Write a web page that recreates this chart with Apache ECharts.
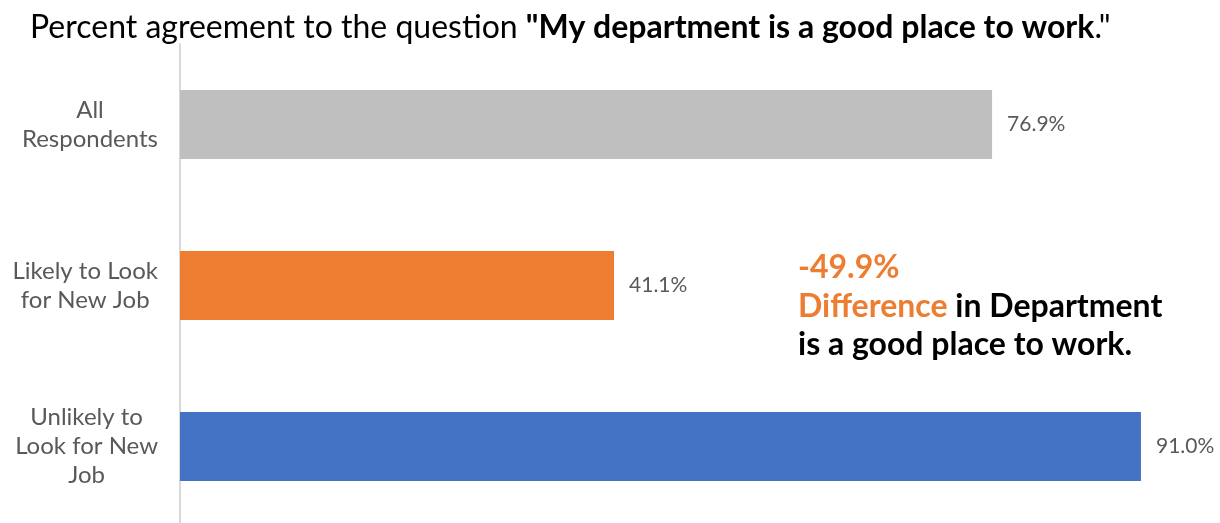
<!DOCTYPE html>
<html>
<head>
<meta charset="utf-8">
<script src="https://cdn.jsdelivr.net/npm/echarts@6/dist/echarts.min.js"></script>
<style>
  html, body { margin: 0; padding: 0; background: #fff; }
  #chart { width: 1220px; height: 523px; }
</style>
</head>
<body>
<div id="chart"></div>
<script>
// Survey groups and their agreement share (%)
const categories = ['All\nRespondents', 'Likely to Look\nfor New Job', 'Unlikely to\nLook for New\nJob'];
const values = [76.9, 41.1, 91.0];
const barColors = ['#BFBFBF', '#ED7D31', '#4472C4'];
const difference = '-49.9%';

const FONT = 'Lato, "Open Sans", sans-serif';
const chart = echarts.init(document.getElementById('chart'), null, { renderer: 'canvas' });

chart.setOption({
  animation: false,
  title: {
    left: 25,
    top: 7,
    text: 'Percent agreement to the question {b|"My department is a good place to work}{r|."}',
    textStyle: {
      fontFamily: FONT,
      fontSize: 32,
      fontWeight: 'normal',
      color: '#000',
      rich: {
        b: { fontFamily: FONT, fontSize: 32, fontWeight: 'bold', color: '#000' },
        r: { fontFamily: FONT, fontSize: 32, fontWeight: 'normal', color: '#000' }
      }
    }
  },
  grid: { left: 180, top: 44, width: 1056, bottom: -4, containLabel: false, outerBoundsMode: 'none' },
  xAxis: {
    type: 'value',
    min: 0,
    max: 100,
    show: false
  },
  yAxis: {
    type: 'category',
    data: categories,
    inverse: true,
    axisLine: { show: true, lineStyle: { color: '#D9D9D9', width: 2 } },
    axisTick: { show: false },
    axisLabel: {
      align: 'right',
      margin: 22,
      // each line centred inside a right-anchored block
      formatter: v => v.split('\n').map(line => '{c|' + line + '}').join('\n'),
      rich: {
        c: {
          fontFamily: FONT,
          fontSize: 24,
          color: '#595959',
          align: 'center',
          lineHeight: 29
        }
      }
    }
  },
  series: [{
    type: 'bar',
    barWidth: 69,
    data: values.map((v, i) => ({ value: v, itemStyle: { color: barColors[i] } })),
    label: {
      show: true,
      position: 'right',
      distance: 15,
      fontFamily: FONT,
      fontSize: 21,
      color: '#595959',
      formatter: p => p.value.toFixed(1) + '%'
    }
  }],
  graphic: [{
    type: 'text',
    left: 798,
    top: 252,
    style: {
      text: '{o|' + difference + '}\n{o|Difference}{k| in Department}\n{k|is a good place to work.}',
      rich: {
        o: { fontFamily: FONT, fontSize: 32, fontWeight: 'bold', fill: '#ED7D31', lineHeight: 38.5 },
        k: { fontFamily: FONT, fontSize: 32, fontWeight: 'bold', fill: '#000', lineHeight: 38.5 }
      }
    }
  }]
});
</script>
</body>
</html>
